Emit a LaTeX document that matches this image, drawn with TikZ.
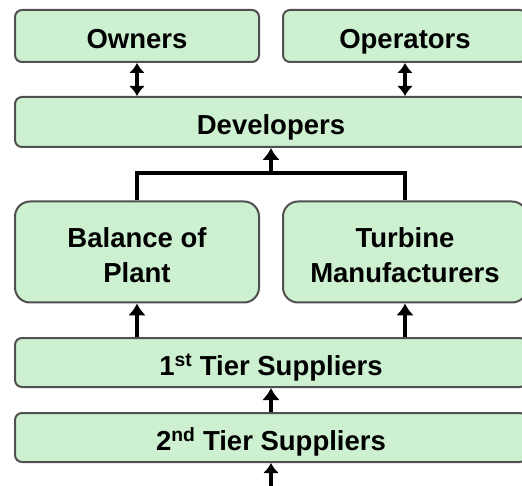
\documentclass[tikz,border=0pt]{standalone}
\usepackage{fontspec}
\setmainfont{Liberation Sans}
\usetikzlibrary{arrows.meta}

\definecolor{boxgreen}{RGB}{204,240,208}
\definecolor{boxedge}{RGB}{80,80,80}

\begin{document}
\begin{tikzpicture}[x=1pt,y=-1pt,
  tier/.style={draw=boxedge,line width=2pt,fill=boxgreen,rounded corners=7pt,
    inner sep=0pt,align=center,text height=26pt,text depth=0pt,
    font=\bfseries\fontsize{27.5}{35}\selectfont},
  link/.style={line width=4.5pt,-{Latex[length=12pt,width=18pt]}},
  both/.style={line width=4.5pt,{Latex[length=10pt,width=16pt]}-{Latex[length=10pt,width=16pt]}}]
  \useasboundingbox (0,0) rectangle (522,486);
  \clip (0,0) rectangle (522,486);

  % Top row
  \node[tier,minimum width=244pt,minimum height=52pt] (own) at (137,36) {Owners};
  \node[tier,minimum width=244pt,minimum height=52pt] (ops) at (405,36) {Operators};
  \node[tier,minimum width=512pt,minimum height=50pt] (dev) at (271,122) {Developers};

  % Middle row
  \node[tier,rounded corners=15pt,minimum width=244pt,minimum height=101pt,text height=62pt] (bop) at (137,252) {Balance of\\Plant};
  \node[tier,rounded corners=15pt,minimum width=244pt,minimum height=101pt,text height=62pt] (turb) at (405,252) {Turbine\\Manufacturers};

  % Supplier tiers
  \node[tier,minimum width=512pt,minimum height=49pt] (first) at (271,362.5) {1\textsuperscript{st} Tier Suppliers};
  \node[tier,minimum width=512pt,minimum height=49pt] (second) at (271,437.5) {2\textsuperscript{nd} Tier Suppliers};
  \coordinate (join) at (271,173);
  \coordinate (below) at (271,505);

  % Connectors
  \draw[both] (own.south) -- (own.south |- dev.north);
  \draw[both] (ops.south) -- (ops.south |- dev.north);
  \draw[line width=4.5pt] (bop.north) |- (join) -| (turb.north);
  \draw[link] (join) -- (dev.south);
  \draw[link] (bop.south |- first.north) -- (bop.south);
  \draw[link] (turb.south |- first.north) -- (turb.south);
  \draw[link] (second.north) -- (first.south);
  \draw[both] (second.south) -- (below);
\end{tikzpicture}
\end{document}
